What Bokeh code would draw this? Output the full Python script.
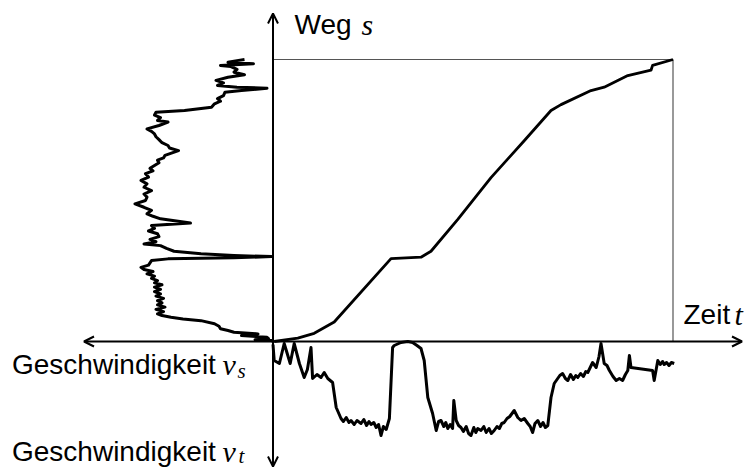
from bokeh.plotting import figure
from bokeh.models import Range1d, Arrow, OpenHead
from bokeh.core.properties import value
from bokeh.embed import file_html
from bokeh.resources import INLINE

# ---- data ----
# distance s over time t (both normalised 0..100)
t_s = [0.3, 6.2, 10.3, 15.3, 29.5, 37.0, 39.5, 46.2, 54.5, 62.8, 69.5, 72.0, 79.5, 82.8, 88.7, 94.5, 94.9, 100.0]
s_t = [0.0, 1.2, 2.9, 6.9, 29.4, 29.9, 32.0, 43.3, 58.1, 71.2, 81.9, 84.0, 89.0, 90.2, 94.3, 96.2, 97.9, 100.0]

# speed over time v_t (drawn downward)
t_vt = [0, 0.3, 1.6, 2.8, 4.3, 5.3, 6.6, 7.8, 8.6, 9.5, 9.9, 11, 12, 12.8, 13.7, 14.9, 15.8, 17, 17.6, 18.3,
        19, 19.5, 20.3, 21, 22, 22.7, 23.4, 24, 24.5, 25.2, 25.8, 26.4, 27, 27.6, 28.3, 29.1, 29.9, 30.3, 32, 33.7,
        34.9, 36, 37, 37.8, 38.7, 39.9, 40.8, 41.4, 42, 42.7, 43.2, 43.7, 44.3, 44.9, 45.2, 45.8, 46.4, 47, 47.6, 48.3,
        48.9, 49.5, 50.2, 50.7, 51.2, 52, 52.7, 53.3, 54, 54.6, 55.3, 56, 56.6, 57.2, 57.8, 58.5, 59.2, 60.3, 61.2, 62,
        62.8, 63.7, 64.3, 64.9, 65.5, 66.2, 66.9, 67.5, 68.1, 68.7, 69.5, 70.3, 71, 71.7, 72.4, 73.1, 73.7, 74.4, 75.1, 75.7,
        76.2, 76.9, 77.6, 78.2, 78.7, 79.3, 79.9, 80.8, 81.5, 82, 82.8, 83.5, 84.1, 85, 85.8, 86.6, 87.4, 88.1, 88.7, 89.1,
        89.5, 94.9, 95.3, 96.2, 96.8, 97.4, 97.8, 98.4, 99, 99.6, 100.3]
v_t = [3, 19, 22, 2, 22, 2, 22, 36, 28, 6, 37, 33, 36, 31, 37, 41, 66, 77, 80, 76,
       81, 79, 83, 79, 82, 78, 84, 80, 83, 81, 86, 83, 94, 85, 88, 77, 6, 4, 1, 0,
       1, 4, 7, 19, 56, 72, 89, 80, 79, 85, 81, 87, 83, 87, 59, 79, 84, 86, 90, 85,
       92, 94, 86, 91, 87, 89, 85, 91, 87, 92, 89, 85, 87, 82, 81, 77, 75, 69, 76, 79,
       77, 82, 85, 91, 82, 79, 85, 81, 86, 84, 56, 42, 38, 34, 32, 37, 39, 33, 38, 34,
       36, 32, 35, 30, 31, 26, 21, 26, 15, 2, 22, 24, 29, 35, 39, 37, 39, 33, 29, 14,
       26, 29, 39, 19, 23, 20, 23, 21, 24, 21, 22]

# speed over distance v_s (drawn leftward)
s_vs = [0, 0.35, 0.6, 1.0, 1.5, 2.1, 2.7, 3.3, 3.9, 4.5, 5.4, 6.3, 7.4, 8.0, 8.6, 9.2, 9.8, 10.6, 11.4, 12.2,
        13.0, 13.7, 14.5, 15.3, 16.1, 16.9, 17.7, 18.5, 19.3, 20.1, 20.8, 21.6, 22.4, 23.2, 24, 24.8, 25.5, 26.3, 27.1, 28.7,
        29.3, 29.7, 30.1, 30.5, 31.1, 32, 33, 34, 34.6, 35.4, 36.2, 37.2, 38.2, 39.2, 40.1, 41.1, 42, 43.5, 44.4, 45.3,
        46.5, 47.6, 48.8, 50, 51.2, 52.3, 53.5, 54.7, 55.9, 57.1, 58.3, 59.5, 60.5, 61.4, 62.4, 63.4, 64.3, 65.1, 66, 67.7,
        68.6, 69.5, 70.5, 71.6, 72.6, 73.6, 74.5, 75.4, 76.6, 77.8, 78.4, 79.4, 80.3, 81.3, 81.9, 83.1, 84.3, 85.2, 86.1, 87.2,
        88.4, 89, 89.8, 90.2, 90.8, 91.7, 92.6, 93.7, 94.6, 95.5, 96.5, 97.5, 97.9, 98.5, 99, 99.6, 100]
v_s = [0, 1, 12, 3, 4, 21, 10, 26, 30, 35, 36, 39, 48, 60, 68, 74, 77, 73, 78, 72,
       77, 74, 77, 73, 78, 75, 79, 75, 79, 74, 79, 77, 81, 79, 84, 80, 86, 88, 83, 81,
       70, 26, 1, 26, 48, 66, 71, 75, 86, 78, 82, 76, 77, 83, 79, 81, 55, 75, 80, 84,
       81, 86, 92, 85, 84, 86, 81, 86, 84, 88, 83, 85, 80, 82, 79, 76, 77, 73, 72, 63,
       69, 70, 74, 76, 78, 79, 81, 84, 76, 70, 77, 75, 79, 78, 59, 41, 39, 35, 37, 33,
       32, 21, 4, 24, 37, 33, 38, 30, 19, 26, 24, 28, 35, 13, 30, 24, 19]

# ---- scales ----
PX_T = 4.0      # px per t unit
PX_S = 2.82     # px per s unit
VT_PX = 1.0     # px per speed unit (downward)
VS_PX = 1.5     # px per speed unit (leftward)
W, H = 747, 468
X0, Y0 = 272.5, 341.0   # origin in screen px (from top-left)

p = figure(width=W, height=H, output_backend="svg", toolbar_location=None,
           x_range=Range1d(-X0 / PX_T, (W - X0) / PX_T),
           y_range=Range1d(-(H - Y0) / PX_S, Y0 / PX_S),
           min_border=0, outline_line_color=None)
p.axis.visible = False
p.grid.visible = False
p.background_fill_color = "white"
p.border_fill_color = "white"

# frame box
p.line([0, 100, 100], [100, 100, 0], line_color="#555555", line_width=1.2)

# main curve
p.line(t_s, s_t, line_color="black", line_width=2.8, line_join="round")

# v_t downward
p.line(t_vt, [-v * VT_PX / PX_S for v in v_t], line_color="black", line_width=3.0, line_join="round")

# v_s leftward
p.line([-v * VS_PX / PX_T for v in v_s], s_vs, line_color="black", line_width=3.0, line_join="round")

# axes with arrows
p.add_layout(Arrow(start=OpenHead(size=10, line_width=2), end=OpenHead(size=10, line_width=2),
                   x_start=(83.5 - X0) / PX_T, y_start=0, x_end=(741.5 - X0) / PX_T, y_end=0,
                   line_width=2, line_color="black"))
p.add_layout(Arrow(start=OpenHead(size=10, line_width=2), end=OpenHead(size=10, line_width=2),
                   x_start=0, y_start=(Y0 - 466) / PX_S, x_end=0, y_end=(Y0 - 13) / PX_S,
                   line_width=2, line_color="black"))

def sx(px):
    return (px - X0) / PX_T

def sy(py):
    return (Y0 - py) / PX_S

SANS = value("Liberation Sans")
SERIF = value("Liberation Serif")
DY = -11  # baseline correction for rendering

def label(px, py, txt, font=SANS, size="28px", style="normal"):
    p.text(x=[sx(px)], y=[sy(py + DY)], text=[txt], text_font=font, text_font_size=size,
           text_font_style=style, text_baseline="alphabetic", text_align="left", text_color="black")

label(294, 35, "Weg")
label(361, 35, "s", SERIF, "30px", "italic")
label(683, 325, "Zeit")
label(734, 325, "t", SERIF, "30px", "italic")
label(11.5, 375, "Geschwindigkeit")
label(222, 375, "v", SERIF, "30px", "italic")
label(237, 381, "s", SERIF, "21px", "italic")
label(11.5, 461.5, "Geschwindigkeit")
label(222, 461.5, "v", SERIF, "30px", "italic")
label(238, 466, "t", SERIF, "21px", "italic")

open("out.html", "w").write(file_html(p, INLINE))
